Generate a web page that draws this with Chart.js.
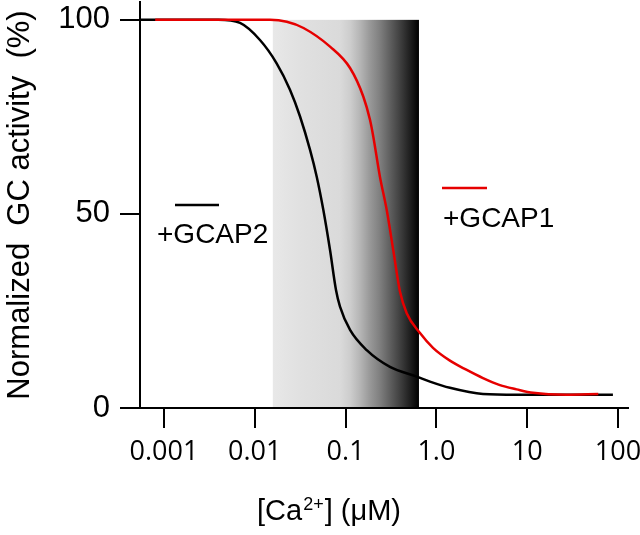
<!DOCTYPE html>
<html>
<head>
<meta charset="utf-8">
<script src="https://cdn.jsdelivr.net/npm/chart.js@4"></script>
<style>
  html, body { margin: 0; padding: 0; background: #fff; }
  #wrap { width: 640px; height: 535px; position: relative; }
</style>
</head>
<body>
<div id="wrap"><canvas id="gc-chart"></canvas></div>
<script>
// GC activity vs free calcium
const gcap2Ca = [0.000544, 0.00396, 0.00687, 0.0114, 0.0174, 0.0244, 0.0315, 0.0406, 0.0481, 0.0569, 0.0674, 0.0784, 0.0868, 0.112, 0.171, 0.308, 0.607, 0.85, 1.41, 3.26, 7.72, 88];
const gcap2Act = [100, 100, 99.2, 94.8, 88.8, 82.0, 75.1, 66.5, 59.6, 51.0, 40.7, 30.4, 26.1, 20.1, 14.9, 10.6, 8.1, 6.8, 5.2, 3.6, 3.4, 3.4];

const gcap1Ca = [0.0008, 0.0147, 0.0225, 0.0344, 0.0674, 0.112, 0.157, 0.186, 0.202, 0.239, 0.284, 0.335, 0.397, 0.471, 0.66, 0.918, 1.41, 2.16, 3.26, 5.01, 7.66, 11.6, 27.2, 60.7];
const gcap1Act = [100, 100, 99.5, 97.9, 93.1, 87.6, 80.2, 74.2, 69.9, 59.6, 51.0, 40.7, 30.0, 24.4, 19.3, 15.5, 12.2, 9.8, 7.7, 5.9, 4.8, 3.9, 3.4, 3.6];

// shaded band (µM range, height in %)
const shadeCa = [0.0158, 0.643];
const shadeTop = 100;

const xTickValues = [0.001, 0.01, 0.1, 1, 10, 100];
const xTickLabels = ["0.001", "0.01", "0.1", "1.0", "10", "100"];
const yTickValues = [0, 50, 100];

const toPoints = (xs, ys) => xs.map((x, i) => ({ x: x, y: ys[i] }));

const bandPlugin = {
  id: "band",
  beforeDraw: (chart) => {
    const { ctx, scales } = chart;
    const x0 = scales.x.getPixelForValue(shadeCa[0]);
    const x1 = scales.x.getPixelForValue(shadeCa[1]);
    const y0 = scales.y.getPixelForValue(shadeTop);
    const y1 = scales.y.getPixelForValue(0);
    const g = ctx.createLinearGradient(x0, 0, x1, 0);
    g.addColorStop(0, "#e8e8e8");
    g.addColorStop(0.2, "#e0e0e0");
    g.addColorStop(0.46, "#dadada");
    g.addColorStop(0.53, "#cdcdcd");
    g.addColorStop(0.6, "#b4b4b4");
    g.addColorStop(0.66, "#9a9a9a");
    g.addColorStop(0.73, "#808080");
    g.addColorStop(0.8, "#606060");
    g.addColorStop(0.87, "#404040");
    g.addColorStop(0.94, "#1e1e1e");
    g.addColorStop(1, "#000000");
    ctx.save();
    ctx.fillStyle = g;
    ctx.fillRect(x0, y0, x1 - x0, y1 - y0);
    ctx.restore();
  },
};

const labelPlugin = {
  id: "labels",
  afterDraw: (chart) => {
    const ctx = chart.ctx;
    ctx.save();
    ctx.lineWidth = 2.5;
    // legend keys
    ctx.strokeStyle = "#000";
    ctx.beginPath();
    ctx.moveTo(175, 205);
    ctx.lineTo(219, 205);
    ctx.stroke();
    ctx.strokeStyle = "#e60000";
    ctx.beginPath();
    ctx.moveTo(442, 188);
    ctx.lineTo(487, 188);
    ctx.stroke();
    ctx.fillStyle = "#000";
    ctx.font = "28px 'Liberation Sans', Arial, sans-serif";
    ctx.textBaseline = "alphabetic";
    ctx.textAlign = "left";
    ctx.fillText("+GCAP2", 157, 243);
    ctx.fillText("+GCAP1", 443, 227);
    // x axis title with superscript
    let x = 257;
    ctx.font = "29px 'Liberation Sans', Arial, sans-serif";
    ctx.fillText("[Ca", x, 520);
    x += ctx.measureText("[Ca").width + 1;
    ctx.font = "18px 'Liberation Sans', Arial, sans-serif";
    ctx.fillText("2+", x, 510);
    x += ctx.measureText("2+").width + 1;
    ctx.font = "29px 'Liberation Sans', Arial, sans-serif";
    ctx.fillText("] (μM)", x, 520);
    ctx.restore();
  },
};

const config = {
  type: "line",
  data: {
    datasets: [
      {
        label: "+GCAP1",
        data: toPoints(gcap1Ca, gcap1Act),
        borderColor: "#e60000",
        borderWidth: 2.5,
        pointRadius: 0,
        cubicInterpolationMode: "monotone",
        fill: false,
        order: 0,
      },
      {
        label: "+GCAP2",
        data: toPoints(gcap2Ca, gcap2Act),
        borderColor: "#000000",
        borderWidth: 2.5,
        pointRadius: 0,
        cubicInterpolationMode: "monotone",
        fill: false,
        order: 1,
      },
    ],
  },
  options: {
    responsive: true,
    maintainAspectRatio: false,
    animation: false,
    layout: { padding: { top: 2, right: 12, left: 0, bottom: 0 } },
    plugins: {
      legend: { display: false },
      tooltip: { enabled: false },
    },
    scales: {
      x: {
        type: "logarithmic",
        min: 0.000544,
        max: 129,
        border: { display: true, color: "#000", width: 2 },
        grid: {
          drawOnChartArea: false,
          drawTicks: true,
          tickLength: 20,
          tickColor: "#000",
          lineWidth: 2,
        },
        ticks: {
          color: "#000",
          padding: 8,
          autoSkip: false,
          maxRotation: 0,
          font: { family: "'Open Sans', sans-serif", size: 27 },
          callback: (value, index) => xTickLabels[index],
        },
        afterBuildTicks: (scale) => {
          scale.ticks = xTickValues.map((v) => ({ value: v }));
        },
        afterFit: (scale) => {
          scale.height = 127;
          scale.paddingLeft = 0;
          scale.paddingRight = 0;
        },
      },
      y: {
        type: "linear",
        min: 0,
        max: 104.6,
        border: { display: true, color: "#000", width: 2 },
        grid: {
          drawOnChartArea: false,
          drawTicks: true,
          tickLength: 20,
          tickColor: "#000",
          lineWidth: 2,
        },
        ticks: {
          color: "#000",
          padding: 10,
          font: { family: "'Liberation Sans', Arial, sans-serif", size: 31 },
        },
        afterBuildTicks: (scale) => {
          scale.ticks = yTickValues.map((v) => ({ value: v }));
        },
        afterFit: (scale) => {
          scale.width = 140;
          scale.paddingTop = 0;
          scale.paddingBottom = 0;
        },
        title: {
          display: true,
          text: "Normalized  GC activity  (%)",
          color: "#000",
          padding: { top: 2, bottom: 0 },
          font: { family: "'Liberation Sans', Arial, sans-serif", size: 31 },
        },
      },
    },
  },
  plugins: [bandPlugin, labelPlugin],
};

const gcChart = new Chart(document.getElementById("gc-chart"), config);
</script>
</body>
</html>
